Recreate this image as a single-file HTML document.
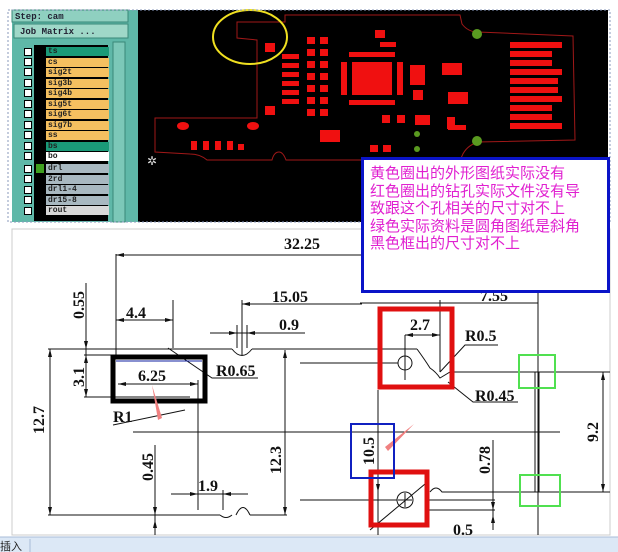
<!DOCTYPE html><html><head><meta charset="utf-8"><style>
body{margin:0;width:618px;height:552px;overflow:hidden;background:#fff;font-family:"Liberation Serif",serif}
svg{position:absolute;left:0;top:0}
.row{position:absolute;left:46px;width:61px;height:9px;font:bold 8px "Liberation Mono",monospace;line-height:9px;padding-left:2px;color:#222}
.cb{position:absolute;left:24px;width:6px;height:6px;border:1px solid #000;background:#fff}
#note{position:absolute;left:361px;top:157px;width:249px;height:136px;border:3px solid #0a14c8;background:#fff;color:#e020d0;font:15px "Liberation Sans","Noto Sans CJK SC",sans-serif;line-height:17.5px;padding:5px 0 0 6px;box-sizing:border-box}
</style></head><body>
<svg width="618" height="552" viewBox="0 0 618 552">
<rect x="12" y="10" width="126" height="212" fill="#5fb8a8"/>
<rect x="12" y="10" width="116" height="12" fill="#8fd0c0" stroke="#3a8878"/>
<text x="15" y="19" font-family="Liberation Mono" font-size="9" font-weight="bold" fill="#223">Step: cam</text>
<rect x="14" y="24" width="114" height="14" fill="#9fd8c8" stroke="#3a8878"/>
<text x="20" y="34" font-family="Liberation Mono" font-size="9" font-weight="bold" fill="#223">Job Matrix ...</text>
<rect x="22" y="45" width="86" height="176" fill="#000"/>
<rect x="22" y="45" width="12" height="176" fill="#5fb8a8"/>
<rect x="113" y="42" width="12" height="180" fill="#7cc8b8" stroke="#3a8878"/>
<rect x="138" y="10" width="470" height="212" fill="#000"/>
<g fill="none" stroke="#a01818" stroke-width="1">
<path d="M155,152 L155,118 L257,118 L257,40 L237,38 L237,22 L285,22 L285,15 L460,15 L462,24 Q468,32 478,32 L573,36 L575,140 L478,142 Q466,146 462,156 L460,160 L286,160 Q283,152 279,152 Q274,152 272,160 L207,160 Q200,154 190,154 L155,152 Z"/>
</g>
<ellipse cx="250" cy="37" rx="37" ry="27" fill="none" stroke="#f0e020" stroke-width="2"/>
<g fill="#f01010">
<rect x="265" y="43" width="10" height="9"/><rect x="265" y="106" width="10" height="9"/>
<rect x="282" y="54" width="17" height="5"/><rect x="282" y="63" width="17" height="5"/><rect x="282" y="72" width="17" height="5"/><rect x="282" y="81" width="17" height="5"/><rect x="282" y="90" width="17" height="5"/><rect x="282" y="99" width="17" height="5"/>
<rect x="307" y="37" width="8" height="7"/><rect x="320" y="37" width="8" height="7"/><rect x="307" y="49" width="8" height="7"/><rect x="320" y="49" width="8" height="7"/><rect x="307" y="61" width="8" height="7"/><rect x="320" y="61" width="8" height="7"/><rect x="307" y="73" width="8" height="7"/><rect x="320" y="73" width="8" height="7"/><rect x="307" y="85" width="8" height="7"/><rect x="320" y="85" width="8" height="7"/><rect x="307" y="97" width="8" height="7"/><rect x="320" y="97" width="8" height="7"/><rect x="307" y="109" width="8" height="7"/><rect x="320" y="109" width="8" height="7"/>
<rect x="352" y="62" width="40" height="33"/>
<rect x="349" y="52" width="46" height="5"/><rect x="349" y="100" width="46" height="5"/>
<rect x="341" y="62" width="6" height="33"/><rect x="397" y="62" width="6" height="33"/>
<rect x="380" y="42" width="16" height="5"/><rect x="375" y="30" width="10" height="8"/>
<rect x="382" y="115" width="8" height="8"/><rect x="397" y="115" width="8" height="8"/>
<rect x="370" y="145" width="8" height="7"/><rect x="383" y="145" width="8" height="7"/>
<rect x="320" y="130" width="20" height="12"/>
<rect x="410" y="65" width="15" height="20"/><rect x="442" y="63" width="20" height="12"/><rect x="448" y="92" width="20" height="12"/>
<rect x="415" y="115" width="15" height="10"/><rect x="447" y="117" width="8" height="12"/><rect x="448" y="125" width="18" height="5"/>
<rect x="413" y="90" width="10" height="10"/>
<rect x="510" y="42" width="52" height="6"/><rect x="510" y="51" width="42" height="6"/><rect x="510" y="60" width="42" height="6"/><rect x="510" y="69" width="52" height="6"/><rect x="510" y="78" width="48" height="6"/><rect x="510" y="87" width="48" height="6"/><rect x="510" y="96" width="52" height="6"/><rect x="510" y="105" width="42" height="6"/><rect x="510" y="114" width="42" height="6"/><rect x="510" y="123" width="52" height="6"/>
<ellipse cx="183" cy="126" rx="6" ry="4"/><ellipse cx="253" cy="126" rx="6" ry="4"/>
<rect x="191" y="141" width="6" height="9"/><rect x="203" y="141" width="6" height="9"/><rect x="215" y="141" width="6" height="9"/><rect x="227" y="141" width="6" height="9"/><rect x="238" y="144" width="6" height="6"/>
</g>
<g fill="#5a9a20"><circle cx="477" cy="34" r="5"/><circle cx="477" cy="141" r="5"/><circle cx="417" cy="134" r="3"/><circle cx="417" cy="149" r="3"/></g>
<text x="147" y="165" fill="#ddd" font-size="12">✲</text>
<rect x="8" y="10" width="602" height="212" fill="none" stroke="#8899bb" stroke-dasharray="2,2"/>
<rect x="12" y="229" width="598" height="306" fill="#fff" stroke="#ccc"/>
<g stroke="#111" stroke-width="1" fill="none">
<line x1="116" y1="255" x2="362" y2="255"/><line x1="116" y1="254" x2="116" y2="355"/>
<line x1="538" y1="225" x2="538" y2="535"/>
<line x1="86" y1="283" x2="86" y2="360"/><line x1="86" y1="360" x2="86" y2="397"/>
<line x1="116" y1="320" x2="173" y2="320"/><line x1="173" y1="300" x2="173" y2="348"/>
<line x1="242" y1="304" x2="362" y2="304"/><line x1="242" y1="300" x2="242" y2="355"/>
<line x1="210" y1="333" x2="305" y2="333"/><line x1="237" y1="325" x2="237" y2="348"/><line x1="247" y1="325" x2="247" y2="348"/>
<line x1="48" y1="349" x2="232" y2="349"/><path d="M232,349 Q242,362 252,349"/><line x1="252" y1="349" x2="417" y2="349"/>
<line x1="84" y1="355" x2="207" y2="355"/><line x1="84" y1="397" x2="190" y2="397"/>
<line x1="118" y1="384" x2="198" y2="384"/><line x1="198" y1="380" x2="198" y2="510"/>
<polyline points="168,348 212,378 258,378"/><polyline points="113,425 185,410"/>
<line x1="50" y1="349" x2="50" y2="515"/><line x1="285" y1="350" x2="285" y2="515"/>
<line x1="133" y1="432" x2="560" y2="432"/>
<line x1="48" y1="515" x2="220" y2="515"/><path d="M220,515 Q226,520 232,515"/><path d="M236,515 Q243,500 250,515"/><line x1="250" y1="515" x2="287" y2="515"/>
<line x1="155" y1="445" x2="155" y2="535"/><line x1="171" y1="494" x2="248" y2="494"/><line x1="223" y1="490" x2="223" y2="510"/>
<line x1="360" y1="303" x2="538" y2="303"/>
<line x1="440" y1="300" x2="440" y2="372"/><line x1="405" y1="335" x2="405" y2="380"/><line x1="405" y1="335" x2="440" y2="335"/>
<circle cx="405" cy="363" r="7"/><line x1="405" y1="356" x2="405" y2="370"/>
<line x1="300" y1="363" x2="398" y2="363"/>
<path d="M417,349 Q425,360 430,368 Q436,372 440,378 L450,372 L610,372"/>
<polyline points="440,372 465,345 498,345"/><polyline points="448,382 473,402 518,402"/>
<line x1="535" y1="372" x2="535" y2="492"/><line x1="539" y1="372" x2="539" y2="492"/>
<line x1="603" y1="372" x2="603" y2="492"/>
<line x1="378" y1="390" x2="378" y2="535"/>
<path d="M430,492 Q436,484 442,492 L610,492"/>
<circle cx="405" cy="500" r="8"/><line x1="398" y1="500" x2="412" y2="500"/><line x1="405" y1="493" x2="405" y2="507"/>
<line x1="370" y1="530" x2="425" y2="484"/><line x1="300" y1="500" x2="397" y2="500"/>
<line x1="493" y1="440" x2="493" y2="530"/>
<line x1="425" y1="500" x2="495" y2="500"/><line x1="425" y1="510" x2="495" y2="510"/>
</g>
<g fill="#111">
<path d="M116,255 l8,-2 v4z"/><path d="M116,320 l8,-2 v4z"/><path d="M173,320 l-8,-2 v4z"/>
<path d="M242,304 l8,-2 v4z"/><path d="M237,333 l-8,-2 v4z"/><path d="M247,333 l8,-2 v4z"/>
<path d="M118,384 l8,-2 v4z"/><path d="M198,384 l-8,-2 v4z"/>
<path d="M50,349 l-2,8 h4z"/><path d="M50,515 l-2,-8 h4z"/><path d="M285,350 l-2,8 h4z"/><path d="M285,515 l-2,-8 h4z"/>
<path d="M86,349 l-2,-8 h4z"/><path d="M86,355 l-2,8 h4z"/><path d="M86,397 l-2,-8 h4z"/>
<path d="M155,515 l-2,-8 h4z"/><path d="M155,520 l-2,8 h4z"/>
<path d="M198,494 l-8,-2 v4z"/><path d="M223,494 l8,-2 v4z"/>
<path d="M405,335 l8,-2 v4z"/><path d="M440,335 l-8,-2 v4z"/><path d="M538,255 l-8,-2 v4z"/>
<path d="M603,372 l-2,8 h4z"/><path d="M603,492 l-2,-8 h4z"/>
<path d="M493,510 l-2,-8 h4z"/><path d="M493,515 l-2,8 h4z"/><path d="M378,492 l-2,-8 h4z"/>
</g>
<g font-family="Liberation Serif" font-weight="bold" font-size="16" fill="#111">
<text x="284" y="249">32.25</text><text x="126" y="318">4.4</text><text x="272" y="302">15.05</text><text x="279" y="330">0.9</text>
<text x="138" y="381">6.25</text><text x="216" y="376">R0.65</text><text x="113" y="422">R1</text>
<text x="198" y="491">1.9</text><text x="410" y="330">2.7</text><text x="465" y="341">R0.5</text><text x="475" y="401">R0.45</text>
<text x="453" y="535">0.5</text><text x="480" y="301">7.55</text>
<text transform="translate(84,305) rotate(-90)" text-anchor="middle">0.55</text>
<text transform="translate(84,377) rotate(-90)" text-anchor="middle">3.1</text>
<text transform="translate(44,420) rotate(-90)" text-anchor="middle">12.7</text>
<text transform="translate(281,460) rotate(-90)" text-anchor="middle">12.3</text>
<text transform="translate(153,467) rotate(-90)" text-anchor="middle">0.45</text>
<text transform="translate(374,451) rotate(-90)" text-anchor="middle">10.5</text>
<text transform="translate(490,460) rotate(-90)" text-anchor="middle">0.78</text>
<text transform="translate(598,432) rotate(-90)" text-anchor="middle">9.2</text>
</g>
<rect x="113" y="357" width="92" height="44" fill="none" stroke="#000" stroke-width="5"/>
<line x1="116" y1="361" x2="202" y2="361" stroke="#1020a0"/>
<path d="M152,385 L162,418 L158,420 Z" fill="#f08080"/>
<path d="M414,424 L385,447 L388,451 Z" fill="#f08080"/>
<rect x="380" y="309" width="72" height="78" fill="none" stroke="#e01010" stroke-width="5"/>
<rect x="371" y="472" width="56" height="53" fill="none" stroke="#e01010" stroke-width="5"/>
<rect x="351" y="424" width="43" height="54" fill="none" stroke="#1020c0" stroke-width="2"/>
<rect x="519" y="355" width="36" height="33" fill="none" stroke="#50e050" stroke-width="2"/>
<rect x="520" y="475" width="40" height="31" fill="none" stroke="#50e050" stroke-width="2"/>
<rect x="0" y="537" width="618" height="15" fill="#dce8f6"/>
<line x1="0" y1="537" x2="618" y2="537" stroke="#a8bcd8"/>
<line x1="30" y1="539" x2="30" y2="552" stroke="#a8bcd8"/>
<text x="0" y="550" font-family="Liberation Sans,Noto Sans CJK SC,sans-serif" font-size="11" fill="#222">插入</text>
</svg>
<div class="cb" style="top:48px"></div><div class="row" style="top:47px;background:#1a9a78">ts</div>
<div class="cb" style="top:58px"></div><div class="row" style="top:57.5px;background:#f5c060">cs</div>
<div class="cb" style="top:68px"></div><div class="row" style="top:68px;background:#f5c060">sig2t</div>
<div class="cb" style="top:79px"></div><div class="row" style="top:78.5px;background:#f5c060">sig3b</div>
<div class="cb" style="top:89px"></div><div class="row" style="top:89px;background:#f5c060">sig4b</div>
<div class="cb" style="top:100px"></div><div class="row" style="top:99.5px;background:#f5c060">sig5t</div>
<div class="cb" style="top:110px"></div><div class="row" style="top:110px;background:#f5c060">sig6t</div>
<div class="cb" style="top:121px"></div><div class="row" style="top:120.5px;background:#f5c060">sig7b</div>
<div class="cb" style="top:131px"></div><div class="row" style="top:131px;background:#f5c060">ss</div>
<div class="cb" style="top:142px"></div><div class="row" style="top:141.5px;background:#1a9a78">bs</div>
<div class="cb" style="top:152px"></div><div class="row" style="top:152px;background:#fff">bo</div>
<div class="cb" style="top:165px"></div><div class="row" style="top:164px;background:#a8b8c0">drl</div>
<div class="cb" style="top:175px"></div><div class="row" style="top:174.5px;background:#a8b8c0">2rd</div>
<div class="cb" style="top:186px"></div><div class="row" style="top:185px;background:#a8b8c0">drl1-4</div>
<div class="cb" style="top:196px"></div><div class="row" style="top:195.5px;background:#a8b8c0">dr15-8</div>
<div class="cb" style="top:207px"></div><div class="row" style="top:206px;background:#d8d8d8">rout</div>
<div style="position:absolute;left:36px;top:164px;width:8px;height:9px;background:#40a020"></div>
<div id="note">黄色圈出的外形图纸实际没有<br>红色圈出的钻孔实际文件没有导<br>致跟这个孔相关的尺寸对不上<br>绿色实际资料是圆角图纸是斜角<br>黑色框出的尺寸对不上</div>
</body></html>
